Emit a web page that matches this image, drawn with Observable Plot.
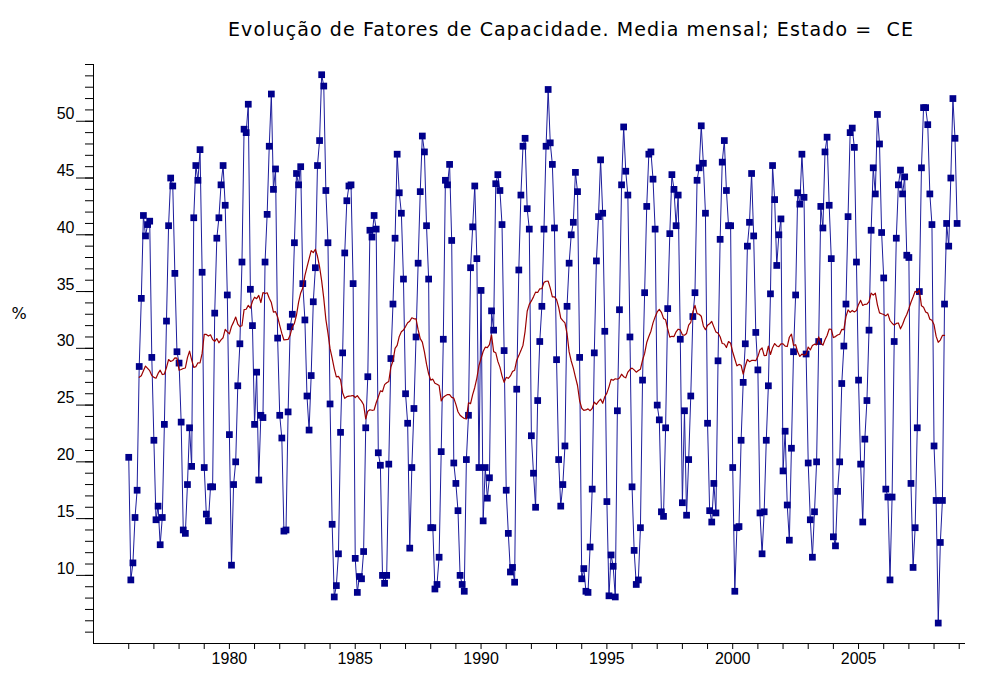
<!DOCTYPE html>
<html>
<head>
<meta charset="utf-8">
<script src="https://cdn.jsdelivr.net/npm/d3@7"></script>
<script src="https://cdn.jsdelivr.net/npm/@observablehq/plot@0.6"></script>
<style>
  body { margin: 0; background: #fff; }
  #title {
    height: 48px; box-sizing: border-box; padding: 20px 0 0 228px;
    font: 19px "DejaVu Sans", sans-serif; line-height: 19px; letter-spacing: 1.1px;
    color: #000; white-space: pre;
  }
</style>
</head>
<body>
<div id="title">Evolução de Fatores de Capacidade. Media mensal; Estado =  CE</div>
<div id="chart"></div>
<script>
// Monthly capacity factor (%), January to December of each year
const fc1976 = [20.4, 9.6, 11.1, 15.1, 17.5, 28.4, 34.4, 41.7, 39.9, 40.9, 41.2, 29.2];
const fc1977 = [21.9, 14.9, 16.1, 12.7, 15.1, 23.3, 32.4, 40.8, 45.0, 44.3, 36.6, 29.7];
const fc1978 = [28.7, 23.5, 14.0, 13.7, 18.0, 23.0, 19.6, 41.5, 46.1, 44.8, 47.5, 36.7];
const fc1979 = [19.5, 15.4, 14.8, 17.8, 17.8, 33.1, 39.7, 41.5, 44.4, 46.1, 42.6, 34.7];
const fc1980 = [22.4, 10.9, 18.0, 20.0, 26.7, 30.4, 37.6, 49.3, 49.0, 51.5, 35.2, 32.0];
const fc1981 = [23.3, 27.9, 18.4, 24.1, 23.9, 37.6, 41.8, 47.8, 52.4, 44.0, 45.8, 30.9];
const fc1982 = [24.1, 22.1, 13.9, 14.0, 24.4, 31.9, 33.0, 39.3, 45.4, 44.4, 46.0, 35.7];
const fc1983 = [32.5, 25.8, 22.8, 27.6, 34.1, 37.1, 46.1, 48.3, 54.1, 53.1, 43.9, 39.3];
const fc1984 = [25.1, 14.5, 8.1, 9.1, 11.9, 22.6, 29.6, 38.4, 43.0, 44.3, 44.4, 35.7];
const fc1985 = [11.5, 8.5, 9.9, 9.7, 12.1, 23.0, 27.5, 40.4, 39.8, 41.7, 40.5, 20.8];
const fc1986 = [19.7, 10.0, 9.3, 10.0, 19.8, 29.1, 33.9, 39.7, 47.1, 43.7, 41.9, 36.1];
const fc1987 = [26.0, 23.4, 12.4, 19.5, 24.7, 31.0, 37.5, 43.8, 48.7, 47.3, 40.8, 36.1];
const fc1988 = [14.2, 14.2, 8.8, 9.2, 11.6, 20.9, 30.8, 44.8, 44.4, 46.2, 39.5, 19.9];
const fc1989 = [18.1, 15.7, 10.0, 9.2, 8.6, 20.2, 24.1, 37.1, 40.7, 44.3, 37.9, 19.5];
const fc1990 = [35.1, 14.8, 19.5, 16.8, 18.6, 33.3, 31.6, 44.5, 45.3, 43.9, 40.9, 29.8];
const fc1991 = [17.5, 13.7, 10.3, 10.7, 9.4, 26.4, 36.9, 43.5, 47.8, 48.5, 42.3, 40.5];
const fc1992 = [22.3, 19.0, 16.0, 25.4, 30.6, 33.7, 40.5, 47.8, 52.8, 48.1, 46.2, 40.6];
const fc1993 = [29.0, 20.2, 16.1, 18.0, 21.4, 33.7, 37.5, 40.0, 41.1, 45.5, 43.8, 29.2];
const fc1994 = [9.7, 10.6, 8.6, 8.5, 12.5, 17.6, 29.6, 37.7, 41.6, 46.6, 41.9, 31.5];
const fc1995 = [16.5, 8.2, 11.8, 10.8, 8.1, 24.5, 33.4, 44.4, 49.5, 45.6, 43.5, 31.0];
const fc1996 = [17.8, 12.2, 9.2, 9.6, 14.2, 27.2, 34.9, 42.5, 47.1, 47.3, 44.9, 40.5];
const fc1997 = [25.0, 23.7, 15.6, 15.2, 23.0, 33.5, 40.1, 45.3, 44.0, 40.8, 43.5, 30.8];
const fc1998 = [16.4, 24.5, 15.3, 20.2, 25.8, 32.8, 34.9, 44.8, 45.9, 49.6, 46.3, 41.9];
const fc1999 = [23.4, 15.7, 14.7, 18.1, 15.5, 28.9, 39.6, 46.4, 48.3, 43.9, 40.8, 40.8];
const fc2000 = [19.5, 8.6, 14.2, 14.3, 21.9, 27.0, 30.4, 39.0, 41.1, 45.4, 39.9, 31.4];
const fc2001 = [28.1, 15.5, 11.9, 15.6, 21.9, 26.7, 34.8, 46.1, 43.1, 37.3, 40.0, 41.4];
const fc2002 = [19.2, 22.7, 16.2, 13.1, 21.2, 29.7, 34.7, 43.7, 42.7, 47.1, 43.3, 29.5];
const fc2003 = [19.9, 14.9, 11.6, 15.6, 20.0, 30.6, 42.5, 40.6, 47.3, 48.6, 42.6, 37.9];
const fc2004 = [13.4, 12.6, 17.4, 20.0, 26.9, 30.2, 33.9, 41.6, 49.0, 49.4, 47.7, 37.6];
const fc2005 = [27.2, 19.8, 14.7, 22.0, 25.4, 31.6, 40.4, 45.9, 43.6, 50.6, 48.0, 40.2];
const fc2006 = [36.2, 17.6, 16.9, 9.6, 16.9, 30.6, 39.7, 44.4, 45.7, 43.6, 45.1, 38.2];
const fc2007 = [38.0, 18.1, 10.7, 14.2, 23.0, 35.0, 45.9, 51.2, 51.2, 49.7, 43.6, 40.9];
const fc2008 = [21.4, 16.6, 5.8, 12.9, 16.6, 33.9, 41.0, 39.0, 45.0, 52.0, 48.5, 41.0];

const yearlySeries = [
  [1976, fc1976], [1977, fc1977], [1978, fc1978], [1979, fc1979], [1980, fc1980],
  [1981, fc1981], [1982, fc1982], [1983, fc1983], [1984, fc1984], [1985, fc1985],
  [1986, fc1986], [1987, fc1987], [1988, fc1988], [1989, fc1989], [1990, fc1990],
  [1991, fc1991], [1992, fc1992], [1993, fc1993], [1994, fc1994], [1995, fc1995],
  [1996, fc1996], [1997, fc1997], [1998, fc1998], [1999, fc1999], [2000, fc2000],
  [2001, fc2001], [2002, fc2002], [2003, fc2003], [2004, fc2004], [2005, fc2005],
  [2006, fc2006], [2007, fc2007], [2008, fc2008]
];

// Axis ticks
const xLabelYears = [1980, 1985, 1990, 1995, 2000, 2005];
const xTickYears = d3.range(1976, 2010);
const yLabelValues = [10, 15, 20, 25, 30, 35, 40, 45, 50];
const yMinorValues = d3.range(5, 56);

const xDomain = [1974.6, 2009.25];
const yDomain = [4, 55];

// One row per month, time as a decimal year
const monthly = yearlySeries.flatMap(([year, values]) =>
  values.map((v, i) => ({t: year + i / 12, v}))
);

const chart = Plot.plot({
  width: 981,
  height: 641,
  marginLeft: 93,
  marginRight: 16,
  marginTop: 16,
  marginBottom: 46,
  style: {background: "#fff", color: "#000", fontFamily: "'Liberation Sans', Arial, sans-serif", fontSize: "16px"},
  x: {domain: xDomain},
  y: {domain: yDomain},
  marks: [
    Plot.ruleX([xDomain[0]], {stroke: "#000"}),
    Plot.ruleY([yDomain[0]], {stroke: "#000"}),
    Plot.axisY({ticks: yMinorValues, tickSize: 8, fill: "none", label: null}),
    Plot.axisY({ticks: yLabelValues, tickSize: 17, fill: "none", label: null}),
    Plot.axisY({ticks: yLabelValues, tickSize: 0, tickPadding: 19, dy: -7, label: null, tickFormat: d => `${d}`}),
    Plot.axisX({ticks: xTickYears, tickSize: 6, fill: "none", label: null}),
    Plot.axisX({ticks: xLabelYears, tickSize: 0, tickPadding: 9, label: null, tickFormat: d => `${d}`}),
    // monthly values
    Plot.line(monthly, {x: "t", y: "v", stroke: "#1c1c9c", strokeWidth: 1}),
    Plot.dot(monthly, {x: "t", y: "v", symbol: "square", r: 3.8, fill: "#00008b"}),
    // 12-month moving average
    Plot.lineY(monthly, Plot.windowY({k: 12, anchor: "middle", strict: true}, {x: "t", y: "v", stroke: "#9b0000", strokeWidth: 1.2})),
    Plot.text(["%"], {frameAnchor: "left", dx: -82, dy: -40, fontSize: 16, fontFamily: "DejaVu Sans"})
  ]
});
document.getElementById("chart").appendChild(chart);
</script>
</body>
</html>
